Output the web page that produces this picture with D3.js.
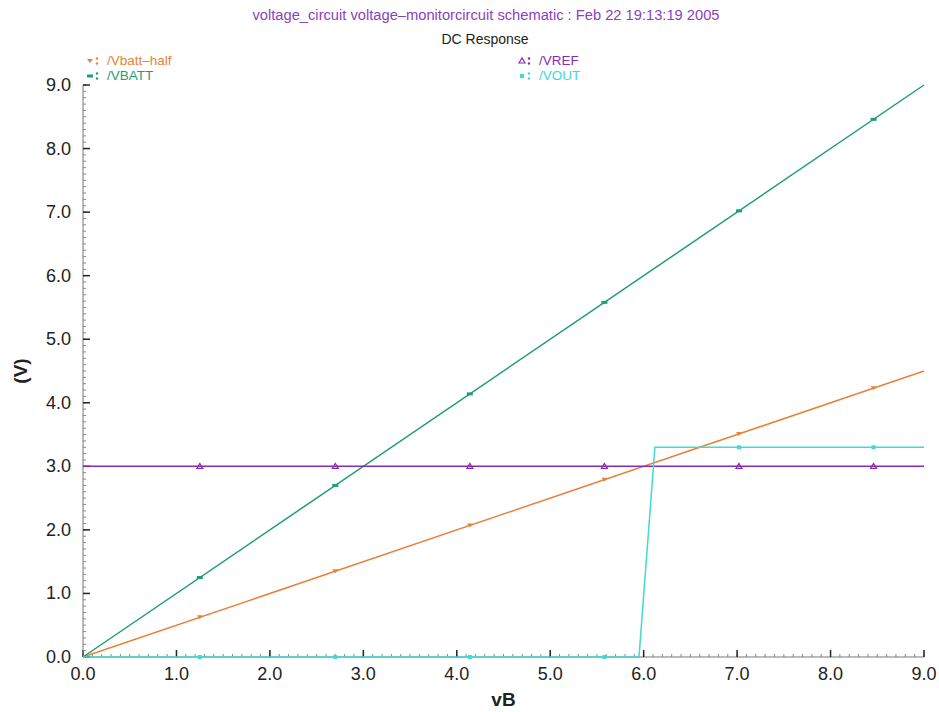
<!DOCTYPE html>
<html>
<head>
<meta charset="utf-8">
<script src="https://cdn.jsdelivr.net/npm/d3@7"></script>
<style>
  body { margin: 0; background: #fff; }
  svg { font-family: "Liberation Sans", Arial, sans-serif; }
</style>
</head>
<body>
<div id="stage"></div>
<script>
// sweep values (vB) and node voltages
const sweep = [0, 9];
const vbatt = [0, 9];
const vbattHalf = [0, 4.5];
const vref = [3, 3];
const voutX = [0, 5.95, 6.12, 9];
const voutY = [0, 0, 3.3, 3.3];
const markerX = [1.25, 2.7, 4.14, 5.58, 7.02, 8.46];
const xTicks = [0, 1, 2, 3, 4, 5, 6, 7, 8, 9];
const yTicks = [0, 1, 2, 3, 4, 5, 6, 7, 8, 9];

const W = 939, H = 712;
const margin = { left: 83, right: 15, top: 85, bottom: 55 };

const svg = d3.select('#stage').append('svg')
  .attr('width', W).attr('height', H);

const x = d3.scaleLinear().domain([0, 9]).range([margin.left, W - margin.right]);
const y = d3.scaleLinear().domain([0, 9]).range([H - margin.bottom, margin.top]);

// titles
svg.append('text').attr('x', 486).attr('y', 20).attr('text-anchor', 'middle')
  .attr('font-size', 14.7).attr('fill', '#8a3fbf')
  .text('voltage_circuit voltage\u2013monitorcircuit schematic : Feb 22 19:13:19 2005');
svg.append('text').attr('x', 485).attr('y', 44).attr('text-anchor', 'middle')
  .attr('font-size', 14).attr('fill', '#222').text('DC Response');

// axes: ticks pointing inward, minor ticks every 0.1
const minor = d3.range(0, 9.0001, 0.1);
const xg = svg.append('g').attr('transform', `translate(0,${y(0)})`);
xg.append('line').attr('x1', x(0)).attr('x2', x(9)).attr('stroke', '#777');
xg.selectAll('.mn').data(minor).join('line')
  .attr('x1', d => x(d)).attr('x2', d => x(d)).attr('y1', 0).attr('y2', -3)
  .attr('stroke', '#888');
xg.selectAll('.mj').data(xTicks).join('line')
  .attr('x1', d => x(d)).attr('x2', d => x(d)).attr('y1', 0).attr('y2', -7)
  .attr('stroke', '#222').attr('stroke-width', 1.5);
xg.selectAll('text').data(xTicks).join('text')
  .attr('x', d => x(d)).attr('y', 23).attr('text-anchor', 'middle')
  .attr('font-size', 18).attr('fill', '#222').text(d => d3.format('.1f')(d));

const yg = svg.append('g').attr('transform', `translate(${x(0)},0)`);
yg.append('line').attr('y1', y(0)).attr('y2', y(9)).attr('stroke', '#777');
yg.selectAll('.mn').data(minor).join('line')
  .attr('y1', d => y(d)).attr('y2', d => y(d)).attr('x1', 0).attr('x2', 3)
  .attr('stroke', '#888');
yg.selectAll('.mj').data(yTicks).join('line')
  .attr('y1', d => y(d)).attr('y2', d => y(d)).attr('x1', 0).attr('x2', 7)
  .attr('stroke', '#222').attr('stroke-width', 1.5);
yg.selectAll('text').data(yTicks).join('text')
  .attr('x', -12).attr('y', d => y(d) + 6).attr('text-anchor', 'end')
  .attr('font-size', 18).attr('fill', '#222').text(d => d3.format('.1f')(d));

svg.append('text').attr('x', x(4.5)).attr('y', 706).attr('text-anchor', 'middle')
  .attr('font-size', 19).attr('font-weight', 'bold').attr('fill', '#222').text('vB');
svg.append('text').attr('transform', `translate(27,${y(4.5)}) rotate(-90)`)
  .attr('text-anchor', 'middle').attr('font-size', 19).attr('font-weight', 'bold')
  .attr('fill', '#222').text('(V)');

// series
const line = d3.line().x(d => x(d[0])).y(d => y(d[1]));
const series = [
  { name: '/Vbatt\u2013half', color: '#e8823a', xs: sweep, ys: vbattHalf, mark: 'down' },
  { name: '/VBATT', color: '#1f9e72', xs: sweep, ys: vbatt, mark: 'dash' },
  { name: '/VREF', color: '#8a2ab0', xs: sweep, ys: vref, mark: 'up' },
  { name: '/VOUT', color: '#3fd9d6', xs: voutX, ys: voutY, mark: 'sq' }
];

const interp = (xs, ys, v) => {
  for (let i = 1; i < xs.length; i++) {
    if (v <= xs[i]) {
      const t = (v - xs[i - 1]) / (xs[i] - xs[i - 1]);
      return ys[i - 1] + t * (ys[i] - ys[i - 1]);
    }
  }
  return ys[ys.length - 1];
};

const drawMark = (g, kind, color, px, py) => {
  if (kind === 'down') {
    g.append('path').attr('d', `M${px - 3},${py - 2}L${px + 3},${py - 2}L${px},${py + 2}Z`)
      .attr('fill', color);
  } else if (kind === 'up') {
    g.append('path').attr('d', `M${px - 3},${py + 2}L${px + 3},${py + 2}L${px},${py - 3}Z`)
      .attr('fill', 'none').attr('stroke', color).attr('stroke-width', 1.2);
  } else if (kind === 'dash') {
    g.append('rect').attr('x', px - 3).attr('y', py - 1.5).attr('width', 6).attr('height', 3)
      .attr('fill', color);
  } else {
    g.append('rect').attr('x', px - 2).attr('y', py - 2).attr('width', 4).attr('height', 4)
      .attr('fill', color);
  }
};

series.forEach(s => {
  const pts = s.xs.map((v, i) => [v, s.ys[i]]);
  svg.append('path').attr('d', line(pts)).attr('fill', 'none')
    .attr('stroke', s.color).attr('stroke-width', 1.5);
  const g = svg.append('g');
  markerX.forEach(mx => drawMark(g, s.mark, s.color, x(mx), y(interp(s.xs, s.ys, mx))));
});

// legend
const legendPos = [[90, 65], [90, 80], [522, 65], [522, 80]];
series.forEach((s, i) => {
  const [lx, ly] = legendPos[i];
  const g = svg.append('g');
  drawMark(g, s.mark, s.color, lx, ly - 4);
  g.append('circle').attr('cx', lx + 7).attr('cy', ly - 6.5).attr('r', 1.2).attr('fill', s.color);
  g.append('circle').attr('cx', lx + 7).attr('cy', ly - 1.5).attr('r', 1.2).attr('fill', s.color);
  g.append('text').attr('x', lx + 17).attr('y', ly).attr('font-size', 13.5)
    .attr('fill', s.color).text(s.name);
});
</script>
</body>
</html>
